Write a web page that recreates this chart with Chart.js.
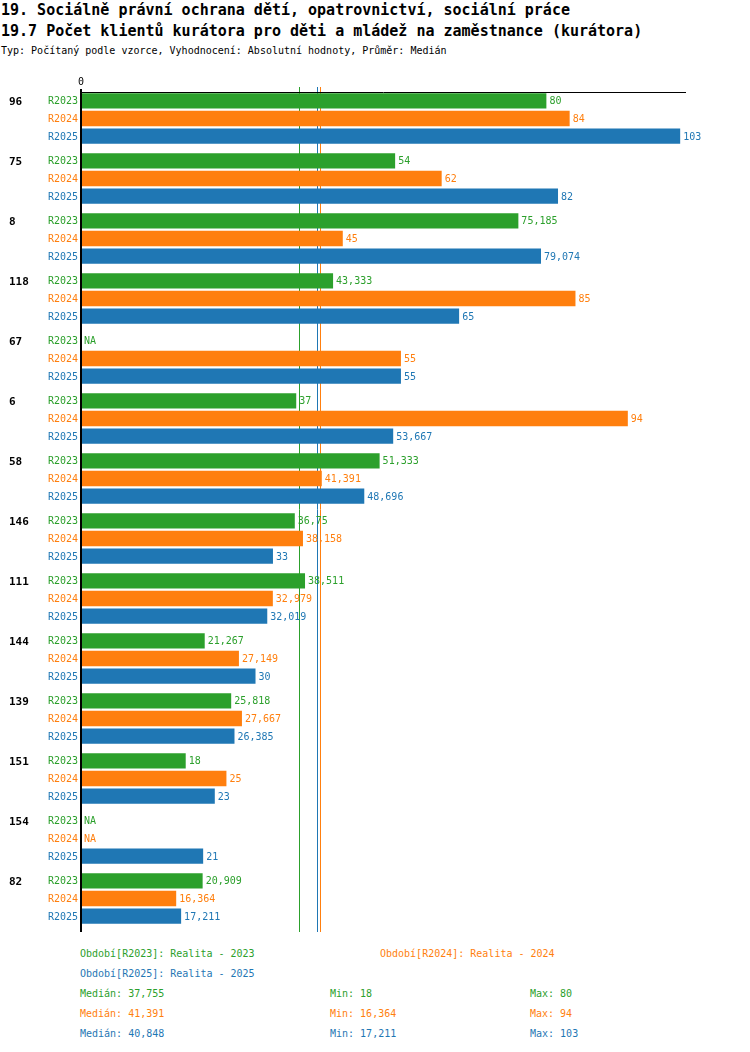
<!DOCTYPE html>
<html>
<head>
<meta charset="utf-8">
<script src="https://cdn.jsdelivr.net/npm/chart.js@4.4.0/dist/chart.umd.min.js"></script>
<style>
    body { margin: 0; background: #fff; font-family: "DejaVu Sans Mono", monospace; }
    #wrap { position: relative; width: 750px; height: 1052px; }
    .t { position: absolute; white-space: pre; line-height: 1; }
    .h1 { font-size: 15px; font-weight: bold; left: 1px; }
    .sub { font-size: 10px; left: 1px; }
    .lg { font-size: 10px; }
    #box { position: absolute; left: 0; top: 0; width: 750px; height: 940px; }
</style>
</head>
<body>
<div id="wrap">
    <div class="t h1" style="top:3px">19. Sociálně právní ochrana dětí, opatrovnictví, sociální práce</div>
    <div class="t h1" style="top:24px">19.7 Počet klientů kurátora pro děti a mládež na zaměstnance (kurátora)</div>
    <div class="t sub" style="top:46px">Typ: Počítaný podle vzorce, Vyhodnocení: Absolutní hodnoty, Průměr: Medián</div>
    <div id="box"><canvas id="c"></canvas></div>
    <div id="legend"></div>
</div>
<script>
const groups = ['96', '75', '8', '118', '67', '6', '58', '146', '111', '144', '139', '151', '154', '82'];
const seriesNames = ['R2023', 'R2024', 'R2025'];
const seriesColors = ['#2ca02c', '#ff7f0e', '#1f77b4'];
const seriesTitles = ['Období[R2023]: Realita - 2023', 'Období[R2024]: Realita - 2024', 'Období[R2025]: Realita - 2025'];

const r2023 = [80, 54, 75.185, 43.333, null, 37, 51.333, 36.75, 38.511, 21.267, 25.818, 18, null, 20.909];
const r2024 = [84, 62, 45, 85, 55, 94, 41.391, 38.158, 32.979, 27.149, 27.667, 25, null, 16.364];
const r2025 = [103, 82, 79.074, 65, 55, 53.667, 48.696, 33, 32.019, 30, 26.385, 23, 21, 17.211];

const medians = [37.755, 41.391, 40.848];
const mins = [18, 16.364, 17.211];
const maxs = [80, 94, 103];

const FONT = '"DejaVu Sans Mono", monospace';
const fmt = v => String(v).replace('.', ',');

// legend + stats under the chart
const legend = document.getElementById('legend');
function addText(txt, x, y, color) {
    const d = document.createElement('div');
    d.className = 't lg';
    d.style.left = x + 'px';
    d.style.top = y + 'px';
    d.style.color = color;
    d.textContent = txt;
    legend.appendChild(d);
}
addText(seriesTitles[0], 80, 949, seriesColors[0]);
addText(seriesTitles[1], 380, 949, seriesColors[1]);
addText(seriesTitles[2], 80, 969, seriesColors[2]);
seriesNames.forEach((s, i) => {
    const y = 989 + i * 20;
    addText('Medián: ' + fmt(medians[i]), 80, y, seriesColors[i]);
    addText('Min: ' + fmt(mins[i]), 330, y, seriesColors[i]);
    addText('Max: ' + fmt(maxs[i]), 530, y, seriesColors[i]);
});

const medianLines = {
    id: 'medianLines',
    beforeDatasetsDraw(chart) {
        const { ctx, scales: { x } } = chart;
        ctx.save();
        ctx.lineWidth = 1;
        medians.forEach((m, i) => {
            const px = Math.round(x.getPixelForValue(m)) - 1.5;
            ctx.strokeStyle = seriesColors[i];
            ctx.beginPath();
            ctx.moveTo(px, 87);
            ctx.lineTo(px, 932);
            ctx.stroke();
        });
        ctx.restore();
    }
};

const barLabels = {
    id: 'barLabels',
    afterDatasetsDraw(chart) {
        const { ctx, scales: { x } } = chart;
        const x0 = x.getPixelForValue(0);
        ctx.save();
        ctx.textBaseline = 'middle';

        // axes
        ctx.strokeStyle = '#000';
        ctx.lineWidth = 1;
        ctx.beginPath();
        ctx.moveTo(x0, 92.5);
        ctx.lineTo(x.getPixelForValue(104), 92.5);
        ctx.stroke();
        ctx.lineWidth = 2;
        ctx.beginPath();
        ctx.moveTo(x0, 89);
        ctx.lineTo(x0, 932);
        ctx.stroke();
        ctx.fillStyle = '#000';
        ctx.font = '10px ' + FONT;
        ctx.textAlign = 'center';
        ctx.fillText('0', x0, 82);

        chart.data.datasets.forEach((ds, di) => {
            const meta = chart.getDatasetMeta(di);
            meta.data.forEach((bar, i) => {
                const y = bar.y + 1;
                ctx.font = '10px ' + FONT;
                ctx.fillStyle = seriesColors[di];
                ctx.textAlign = 'right';
                ctx.fillText(seriesNames[di], x0 - 3, y);
                ctx.textAlign = 'left';
                const v = ds.data[i];
                if (v === null) {
                    ctx.fillText('NA', x0 + 3, y);
                } else {
                    ctx.fillText(fmt(v), bar.x + 3, y);
                }
                if (di === 0) {
                    ctx.fillStyle = '#000';
                    ctx.font = 'bold 11px ' + FONT;
                    ctx.fillText(groups[i], 9, y);
                }
            });
        });
        ctx.restore();
    }
};

new Chart(document.getElementById('c'), {
    type: 'bar',
    data: {
        labels: groups,
        datasets: [
            { label: seriesNames[0], data: r2023, backgroundColor: seriesColors[0] },
            { label: seriesNames[1], data: r2024, backgroundColor: seriesColors[1] },
            { label: seriesNames[2], data: r2025, backgroundColor: seriesColors[2] }
        ].map(d => ({ ...d, categoryPercentage: 0.885, barPercentage: 0.865 }))
    },
    options: {
        indexAxis: 'y',
        responsive: true,
        maintainAspectRatio: false,
        animation: false,
        layout: { padding: { left: 81, right: 64, top: 88.5, bottom: 11.5 } },
        scales: {
            x: { display: false, min: 0, max: 104 },
            y: { display: false }
        },
        plugins: {
            legend: { display: false },
            tooltip: { enabled: false }
        }
    },
    plugins: [medianLines, barLabels]
});
</script>
</body>
</html>
